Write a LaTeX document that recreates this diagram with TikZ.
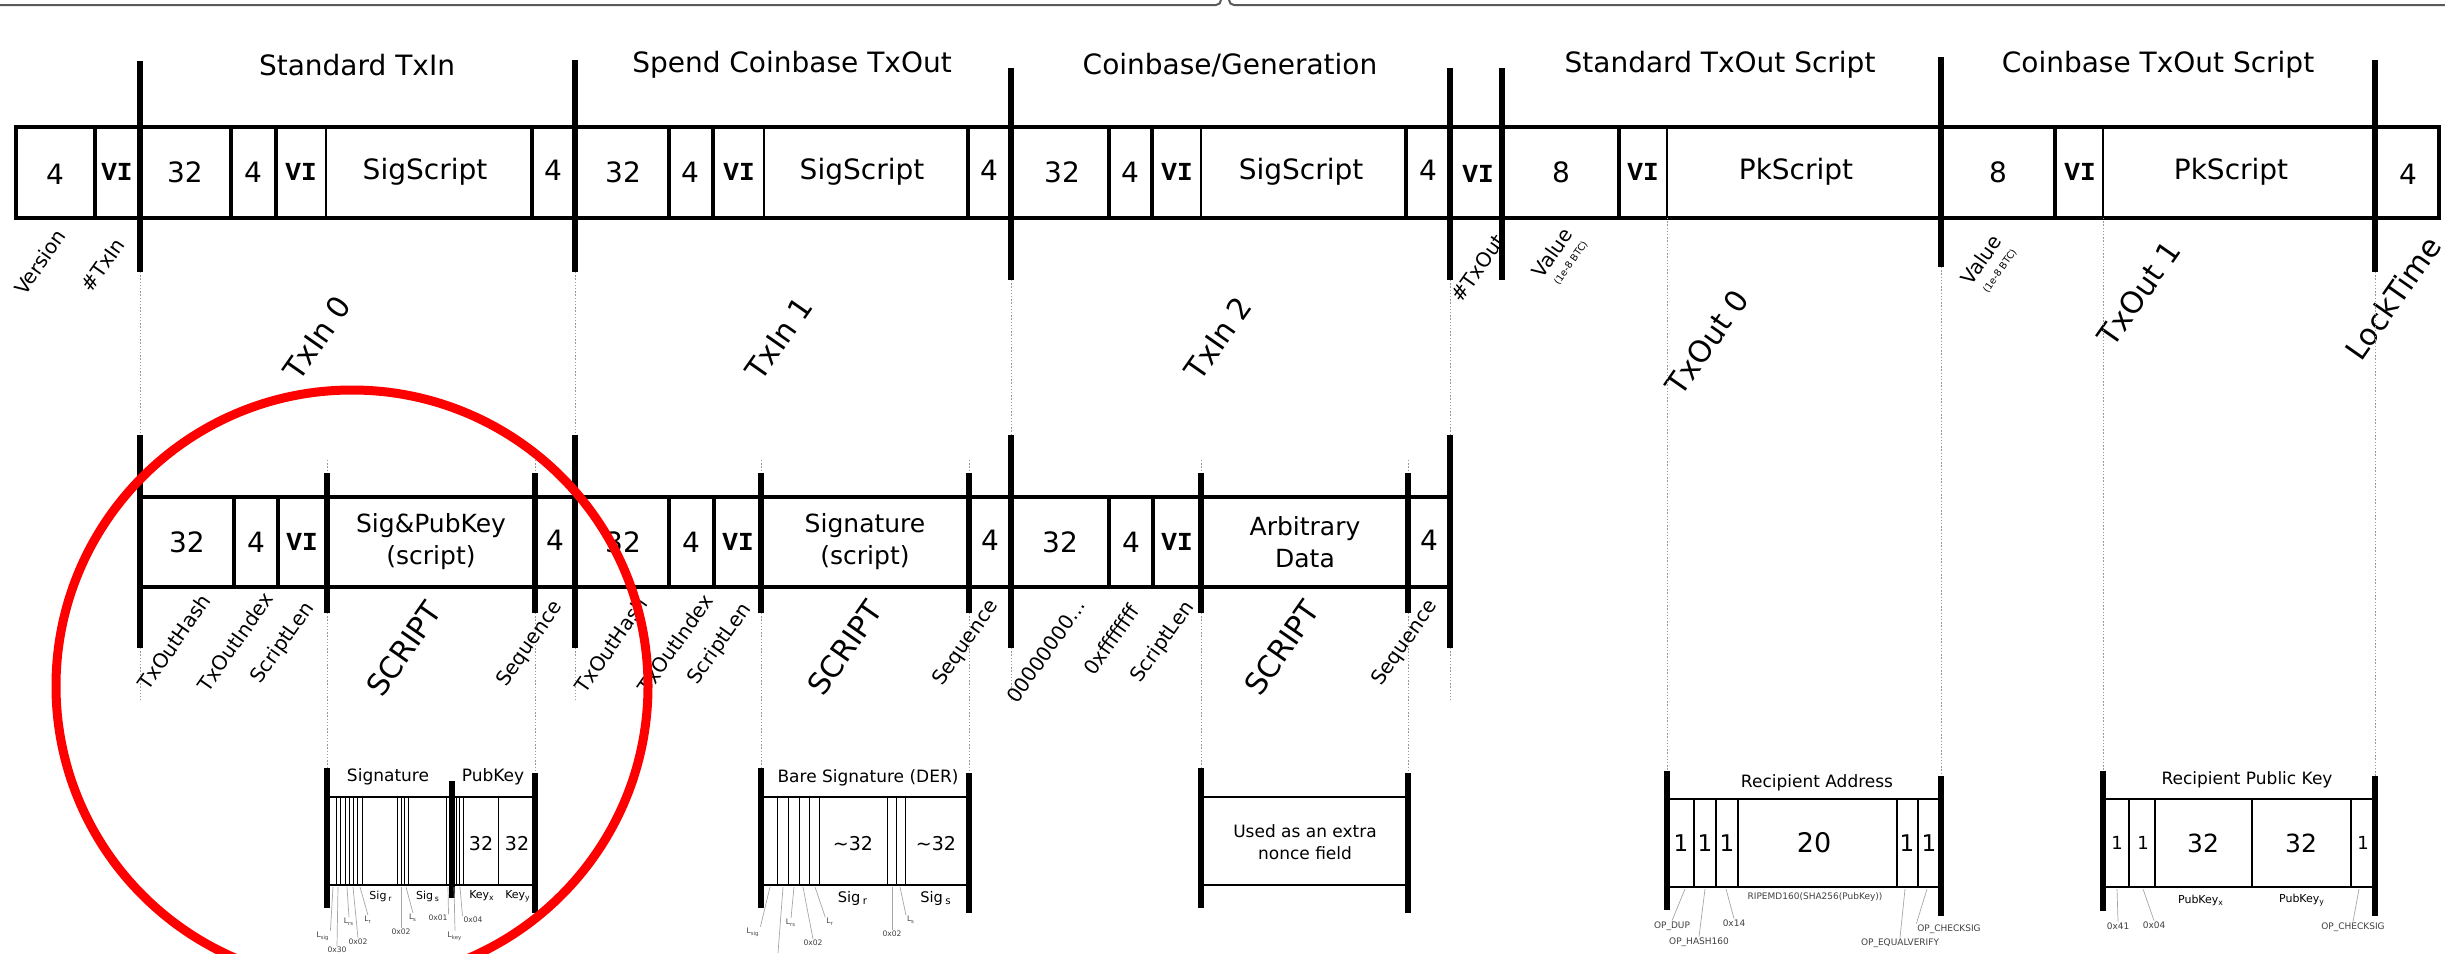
\documentclass[tikz,border=0pt]{standalone}
\usepackage{fontspec}
\setmainfont{DejaVu Sans}
\newfontfamily\vifont{Liberation Mono}
\usetikzlibrary{positioning}

\begin{document}
\begin{tikzpicture}[
    x=0.5pt,
    y=-0.5pt,
    sect/.style={font=\fontsize{14}{16}\selectfont},
    num/.style={font=\fontsize{14}{16}\selectfont, inner sep=0pt},
    vi/.style={font={\vifont\bfseries\fontsize{13}{15}\selectfont}, inner sep=0pt},
    two/.style={font=\fontsize{12.5}{16}\selectfont, align=center, inner sep=0pt},
    fld/.style={font=\fontsize{10}{12}\selectfont, rotate=55, inner sep=0pt},
    part/.style={font=\fontsize{15}{17}\selectfont, rotate=55, inner sep=0pt},
    unit/.style={font=\fontsize{4.8}{5}\selectfont, rotate=55, inner sep=0pt},
    dttl/.style={font=\fontsize{8.5}{10}\selectfont, inner sep=0pt},
    dtxt/.style={font=\fontsize{8.5}{11}\selectfont, align=center, inner sep=0pt},
    dnum/.style={font=\fontsize{9.5}{11}\selectfont, inner sep=0pt},
    dsub/.style={font=\fontsize{5.5}{6}\selectfont, inner sep=0pt},
    hexlbl/.style={font=\fontsize{3.8}{4}\selectfont, text=black!75, inner sep=0.3pt},
    oplbl/.style={font=\fontsize{4.5}{5}\selectfont, text=black!75, inner sep=0.3pt},
    wall/.style={line width=2.2pt},
    bar/.style={line width=2.6pt},
    hair/.style={line width=0.6pt},
    dwall/.style={line width=1pt},
    dbar/.style={line width=3pt},
    dthin/.style={line width=0.5pt},
    ddiv/.style={line width=1.1pt},
    lead/.style={draw=black!35, line width=0.35pt},
    guide/.style={draw=black!40, line width=0.5pt, dash pattern=on 0.7pt off 0.9pt}
]
\useasboundingbox (0,0) rectangle (2445,953);

% frame edge at the top
\draw[black!65, line width=1pt] (0,5) -- (1216,5) to[out=0,in=-90] (1221,0);
\draw[black!65, line width=1pt] (1229,0) to[out=-90,in=180] (1234,5) -- (2445,5);

% section titles
\node[sect] (tstdin) at (357,65) {Standard TxIn};
\node[sect] (tspend) at (792,65) {Spend Coinbase TxOut};
\node[sect] (tgen) at (1230,65) {Coinbase/Generation};
\node[sect] (tstdout) at (1720,65) {Standard TxOut Script};
\node[sect] (tcbout) at (2158,65) {Coinbase TxOut Script};

% first row
\draw[wall] (16,127) rectangle (2439,218);
\draw[wall] (95,127) -- (95,218) (231,127) -- (231,218) (276,127) -- (276,218)
    (532,127) -- (532,218) (669,127) -- (669,218) (713,127) -- (713,218)
    (968,127) -- (968,218) (1109,127) -- (1109,218) (1152,127) -- (1152,218)
    (1406,127) -- (1406,218) (1619,127) -- (1619,218) (2055,127) -- (2055,218);
\draw[hair] (326,127) -- (326,218) (764,127) -- (764,218) (1201,127) -- (1201,218)
    (1667,127) -- (1667,218) (2103,127) -- (2103,218);
\draw[bar] (140,61) -- (140,272) (575,60) -- (575,272) (1011,68) -- (1011,280)
    (1450,68) -- (1450,280) (1502,68) -- (1502,280) (1941,57) -- (1941,267)
    (2375,60) -- (2375,272);

\node[num] (version) at (55,174) {4};
\node[vi] (ntxin) at (117,172) {VI};
\node[num] (hasha) at (185,172) {32};
\node[num] (idxa) at (253,172) {4};
\node[vi] (lena) at (301,172) {VI};
\node[num] (siga) at (425,172) {SigScript};
\node[num] (seqa) at (553,170) {4};
\node[num] (hashb) at (623,172) {32};
\node[num] (idxb) at (690,172) {4};
\node[vi] (lenb) at (739,172) {VI};
\node[num] (sigb) at (862,172) {SigScript};
\node[num] (seqb) at (989,170) {4};
\node[num] (hashc) at (1062,172) {32};
\node[num] (idxc) at (1130,172) {4};
\node[vi] (lenc) at (1177,172) {VI};
\node[num] (sigc) at (1301,172) {SigScript};
\node[num] (seqc) at (1428,170) {4};
\node[vi] (ntxout) at (1478,174) {VI};
\node[num] (vala) at (1561,172) {8};
\node[vi] (pklena) at (1643,172) {VI};
\node[num] (pka) at (1796,172) {PkScript};
\node[num] (valb) at (1998,172) {8};
\node[vi] (pklenb) at (2080,172) {VI};
\node[num] (pkb) at (2231,172) {PkScript};
\node[num] (locktime) at (2408,174) {4};

% first row field names
\node[fld] (lversion) at (40,262) {Version};
\node[fld] (lntxin) at (103,265) {\#TxIn};
\node[part] (ltxin0) at (317,338) {TxIn 0};
\node[part] (ltxin1) at (779,338) {TxIn 1};
\node[part] (ltxin2) at (1218,338) {TxIn 2};
\node[fld] (lntxout) at (1478,268) {\#TxOut};
\node[fld] (lvala) at (1552,253) {Value};
\node[unit] (uvala) at (1571,263) {(1e-8 BTC)};
\node[part] (ltxout0) at (1707,342) {TxOut 0};
\node[fld] (lvalb) at (1981,260) {Value};
\node[unit] (uvalb) at (2000,271) {(1e-8 BTC)};
\node[part] (ltxout1) at (2139,293) {TxOut 1};
\node[part] (llock) at (2393,298) {LockTime};

% guides between the rows
\draw[guide] (140,272) -- (140,435) (575,272) -- (575,435) (1011,280) -- (1011,435)
    (1450,280) -- (1450,435);
\draw[guide] (140,648) -- (140,700) (575,648) -- (575,700) (1011,648) -- (1011,700)
    (1450,648) -- (1450,700);
\draw[guide] (327,460) -- (327,473) (535,460) -- (535,473) (761,460) -- (761,473)
    (969,460) -- (969,473) (1201,460) -- (1201,473) (1408,460) -- (1408,473);
\draw[guide] (327,613) -- (327,768) (535,613) -- (535,773) (761,613) -- (761,768)
    (969,613) -- (969,773) (1201,613) -- (1201,768) (1408,613) -- (1408,773);
\draw[guide] (1667,218) -- (1667,771) (1941,267) -- (1941,776)
    (2103,218) -- (2103,771) (2375,272) -- (2375,776);

% second row
\draw[wall] (140,497) rectangle (1450,587);
\draw[wall] (234,497) -- (234,587) (278,497) -- (278,587) (669,497) -- (669,587)
    (714,497) -- (714,587) (1109,497) -- (1109,587) (1153,497) -- (1153,587);
\draw[bar] (327,473) -- (327,613) (535,473) -- (535,613) (761,473) -- (761,613)
    (969,473) -- (969,613) (1201,473) -- (1201,613) (1408,473) -- (1408,613);
\draw[bar] (140,435) -- (140,648) (575,435) -- (575,648) (1011,435) -- (1011,648)
    (1450,435) -- (1450,648);

\node[num] (inhasha) at (187,542) {32};
\node[num] (inidxa) at (256,542) {4};
\node[vi] (inlena) at (302,542) {VI};
\node[two] (inscra) at (431,542) {Sig\&PubKey\\(script)};
\node[num] (inseqa) at (555,540) {4};
\node[num] (inhashb) at (623,542) {32};
\node[num] (inidxb) at (691,542) {4};
\node[vi] (inlenb) at (738,542) {VI};
\node[two] (inscrb) at (865,542) {Signature\\(script)};
\node[num] (inseqb) at (990,540) {4};
\node[num] (inhashc) at (1060,542) {32};
\node[num] (inidxc) at (1131,542) {4};
\node[vi] (inlenc) at (1177,542) {VI};
\node[two] (inscrc) at (1305,542) {Arbitrary\\Data};
\node[num] (inseqc) at (1429,540) {4};

% second row field names
\node[fld] (lhasha) at (174,642) {TxOutHash};
\node[fld] (lidxa) at (235,642) {TxOutIndex};
\node[fld] (llena) at (283,643) {ScriptLen};
\node[part] (lscra) at (404,649) {SCRIPT};
\node[fld] (lseqa) at (530,644) {Sequence};
\node[fld] (lhashb) at (611,645) {TxOutHash};
\node[fld] (lidxb) at (675,644) {TxOutIndex};
\node[fld] (llenb) at (720,644) {ScriptLen};
\node[part] (lscrb) at (845,648) {SCRIPT};
\node[fld] (lseqb) at (966,643) {Sequence};
\node[fld] (lhashc) at (1046,651) {00000000...};
\node[fld] (lidxc) at (1111,640) {0xffffffff};
\node[fld] (llenc) at (1163,642) {ScriptLen};
\node[part] (lscrc) at (1282,648) {SCRIPT};
\node[fld] (lseqc) at (1405,643) {Sequence};

% signature and pubkey
\draw[dwall] (327,797) -- (535,797) (327,885) -- (535,885);
\draw[dthin] (336,797) -- (336,885) (340,797) -- (340,885) (345,797) -- (345,885)
    (349,797) -- (349,885) (353,797) -- (353,885) (357,797) -- (357,885)
    (362,797) -- (362,885) (397,797) -- (397,885) (401,797) -- (401,885)
    (404,797) -- (404,885) (408,797) -- (408,885) (446,797) -- (446,885)
    (449,797) -- (449,885) (456,797) -- (456,885) (459,797) -- (459,885)
    (463,797) -- (463,885) (498,797) -- (498,885);
\draw[dbar] (327,768) -- (327,908) (452,781) -- (452,898) (535,773) -- (535,913);
\node[dttl] (sigttl) at (388,777) {Signature};
\node[dttl] (pubttl) at (493,777) {PubKey};
\node[dnum] (keyxa) at (481,844) {32};
\node[dnum] (keyya) at (517,844) {32};
\node[dsub] (sigra) at (381,896) {Sig\,\textsubscript{r}};
\node[dsub] (sigsa) at (428,896) {Sig\,\textsubscript{s}};
\node[dsub] (keyxl) at (482,896) {Key\textsubscript{x}};
\node[dsub] (keyyl) at (518,896) {Key\textsubscript{y}};

\coordinate (pa1) at (333,887);
\coordinate (pa2) at (338,887);
\coordinate (pa3) at (347,887);
\coordinate (pa4) at (353,887);
\coordinate (pa5) at (360,887);
\coordinate (pa6) at (401,887);
\coordinate (pa7) at (406,887);
\coordinate (pa8) at (448,887);
\coordinate (pa9) at (454,887);
\coordinate (pa10) at (460,887);
\node[hexlbl] (lsiga) at (323,936) {L\textsubscript{sig}};
\node[hexlbl] (h30a) at (337,950) {0x30};
\node[hexlbl] (lrsa) at (349,922) {L\textsubscript{rs}};
\node[hexlbl] (h02a) at (358,942) {0x02};
\node[hexlbl] (lra) at (368,920) {L\textsubscript{r}};
\node[hexlbl] (h02b) at (401,932) {0x02};
\node[hexlbl] (lsa) at (413,918) {L\textsubscript{s}};
\node[hexlbl] (h01a) at (438,918) {0x01};
\node[hexlbl] (lkeya) at (455,936) {L\textsubscript{key}};
\node[hexlbl] (h04a) at (473,920) {0x04};
\draw[lead] (pa1) -- (lsiga.north east);
\draw[lead] (pa2) -- (h30a.north);
\draw[lead] (pa3) -- (lrsa.north);
\draw[lead] (pa4) -- (h02a.north);
\draw[lead] (pa5) -- (lra.north);
\draw[lead] (pa6) -- (h02b.north);
\draw[lead] (pa7) -- (lsa.north);
\draw[lead] (pa8) -- (h01a.north east);
\draw[lead] (pa9) -- (lkeya.north);
\draw[lead] (pa10) -- (h04a.north west);

% bare signature
\draw[dwall] (761,797) -- (969,797) (761,885) -- (969,885);
\draw[dthin] (777,797) -- (777,885) (788,797) -- (788,885) (799,797) -- (799,885)
    (809,797) -- (809,885) (819,797) -- (819,885) (887,797) -- (887,885)
    (896,797) -- (896,885) (905,797) -- (905,885);
\draw[dbar] (761,768) -- (761,908) (969,773) -- (969,913);
\node[dttl] (derttl) at (868,778) {Bare Signature (DER)};
\node[dnum] (rder) at (853,844) {\textasciitilde 32};
\node[dnum] (sder) at (936,844) {\textasciitilde 32};
\node[font=\fontsize{7.3}{8}\selectfont, inner sep=0pt] (sigrb) at (853,898) {Sig\,\textsubscript{r}};
\node[font=\fontsize{7.3}{8}\selectfont, inner sep=0pt] (sigsb) at (936,898) {Sig\,\textsubscript{s}};

\coordinate (pb1) at (770,887);
\coordinate (pb2) at (783,887);
\coordinate (pb3) at (794,887);
\coordinate (pb4) at (803,887);
\coordinate (pb5) at (815,887);
\coordinate (pb6) at (892,887);
\coordinate (pb7) at (900,887);
\coordinate (pb2end) at (778,953);
\node[hexlbl] (lsigb) at (753,932) {L\textsubscript{sig}};
\node[hexlbl] (lrsb) at (791,923) {L\textsubscript{rs}};
\node[hexlbl] (h02c) at (813,943) {0x02};
\node[hexlbl] (lrb) at (830,922) {L\textsubscript{r}};
\node[hexlbl] (h02d) at (892,934) {0x02};
\node[hexlbl] (lsb) at (911,920) {L\textsubscript{s}};
\draw[lead] (pb1) -- (lsigb.north east);
\draw[lead] (pb2) -- (pb2end);
\draw[lead] (pb3) -- (lrsb.north);
\draw[lead] (pb4) -- (h02c.north);
\draw[lead] (pb5) -- (lrb.north west);
\draw[lead] (pb6) -- (h02d.north);
\draw[lead] (pb7) -- (lsb.north west);

% arbitrary data
\draw[dwall] (1201,797) -- (1408,797) (1201,885) -- (1408,885);
\draw[dbar] (1201,768) -- (1201,908) (1408,773) -- (1408,913);
\node[dtxt] (nonce) at (1305,842) {Used as an extra\\nonce field};

% recipient address
\draw[dwall] (1667,799) -- (1941,799) (1667,887) -- (1941,887);
\draw[ddiv] (1694,799) -- (1694,887) (1716,799) -- (1716,887) (1738,799) -- (1738,887)
    (1897,799) -- (1897,887) (1918,799) -- (1918,887);
\draw[dbar] (1667,771) -- (1667,910) (1941,776) -- (1941,916);
\node[dttl] (addrttl) at (1817,783) {Recipient Address};
\node[font=\fontsize{11.5}{13}\selectfont, inner sep=0pt] (opdup) at (1681,843) {1};
\node[font=\fontsize{11.5}{13}\selectfont, inner sep=0pt] (ophash) at (1705,843) {1};
\node[font=\fontsize{11.5}{13}\selectfont, inner sep=0pt] (push) at (1727,843) {1};
\node[font=\fontsize{13.5}{15}\selectfont, inner sep=0pt] (hash) at (1814,843) {20};
\node[font=\fontsize{11.5}{13}\selectfont, inner sep=0pt] (opeq) at (1907,843) {1};
\node[font=\fontsize{11.5}{13}\selectfont, inner sep=0pt] (opchk) at (1929,843) {1};
\node[oplbl] (ripemd) at (1815,897) {RIPEMD160(SHA256(PubKey))};

\coordinate (pd1) at (1685,889);
\coordinate (pd2) at (1705,889);
\coordinate (pd3) at (1726,889);
\coordinate (pd4) at (1905,889);
\coordinate (pd5) at (1927,889);
\node[oplbl] (ldup) at (1672,926) {OP\_DUP};
\node[oplbl] (lhash160) at (1699,942) {OP\_HASH160};
\node[oplbl] (l14) at (1734,923) {0x14};
\node[oplbl] (leqv) at (1900,943) {OP\_EQUALVERIFY};
\node[oplbl] (lchka) at (1949,929) {OP\_CHECKSIG};
\draw[lead] (pd1) -- (ldup.north);
\draw[lead] (pd2) -- (lhash160.north);
\draw[lead] (pd3) -- (l14.north);
\draw[lead] (pd4) -- (leqv.north);
\draw[lead] (pd5) -- (lchka.north west);

% recipient public key
\draw[dwall] (2103,799) -- (2375,799) (2103,887) -- (2375,887);
\draw[ddiv] (2129,799) -- (2129,887) (2155,799) -- (2155,887) (2252,799) -- (2252,887)
    (2351,799) -- (2351,887);
\draw[dbar] (2103,771) -- (2103,911) (2375,776) -- (2375,916);
\node[dttl] (pkttl) at (2247,780) {Recipient Public Key};
\node[font=\fontsize{9}{11}\selectfont, inner sep=0pt] (push41) at (2117,843) {1};
\node[font=\fontsize{9}{11}\selectfont, inner sep=0pt] (pre04) at (2143,843) {1};
\node[font=\fontsize{12.5}{14}\selectfont, inner sep=0pt] (pkx) at (2203,843) {32};
\node[font=\fontsize{12.5}{14}\selectfont, inner sep=0pt] (pky) at (2301,843) {32};
\node[font=\fontsize{9}{11}\selectfont, inner sep=0pt] (opchkb) at (2363,843) {1};
\node[dsub] (pkxl) at (2201,900) {PubKey\textsubscript{x}};
\node[dsub] (pkyl) at (2302,900) {PubKey\textsubscript{y}};

\coordinate (pe1) at (2117,889);
\coordinate (pe2) at (2143,889);
\coordinate (pe3) at (2359,889);
\node[oplbl] (l41) at (2118,926) {0x41};
\node[oplbl] (l04) at (2154,925) {0x04};
\node[oplbl] (lchkb) at (2353,927) {OP\_CHECKSIG};
\draw[lead] (pe1) -- (l41.north);
\draw[lead] (pe2) -- (l04.north);
\draw[lead] (pe3) -- (lchkb.north);

% highlight
\draw[red, line width=4.5pt] (352,686) circle[radius=148pt];

\end{tikzpicture}
\end{document}
